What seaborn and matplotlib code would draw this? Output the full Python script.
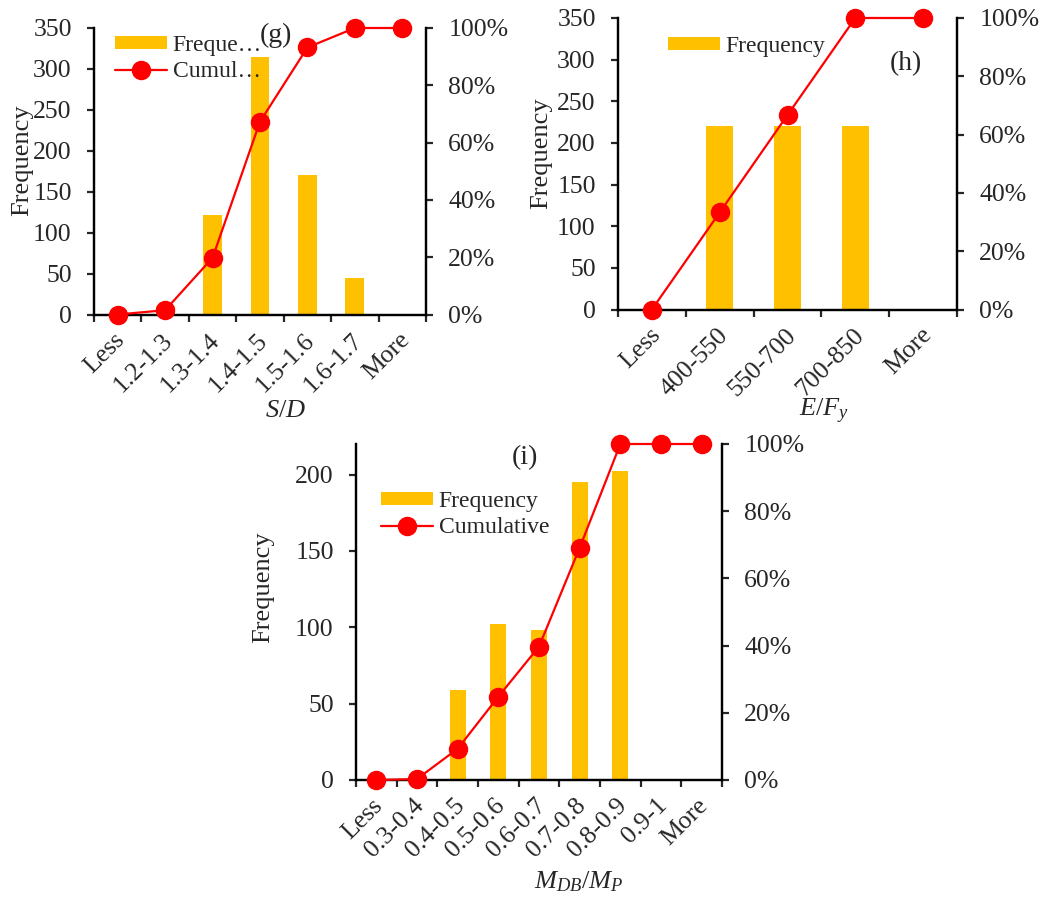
import numpy as np
import pandas as pd
import matplotlib
matplotlib.use("Agg")
import matplotlib.pyplot as plt
from matplotlib.patches import Patch
from matplotlib.lines import Line2D
from matplotlib.ticker import FixedLocator, PercentFormatter
import seaborn as sns

# ---- data -------------------------------------------------------------
g_bins = ["Less", "1.2-1.3", "1.3-1.4", "1.4-1.5", "1.5-1.6", "1.6-1.7", "More"]
g_freq = [0, 10, 121, 314, 171, 45, 0]
g_cum = [0.0, 0.015, 0.198, 0.673, 0.932, 1.0, 1.0]

h_bins = ["Less", "400-550", "550-700", "700-850", "More"]
h_freq = [0, 220, 220, 220, 0]
h_cum = [0.0, 0.333, 0.667, 1.0, 1.0]

i_bins = ["Less", "0.3-0.4", "0.4-0.5", "0.5-0.6", "0.6-0.7",
          "0.7-0.8", "0.8-0.9", "0.9-1", "More"]
i_freq = [0, 2, 59, 102, 98, 195, 202, 0, 0]
i_cum = [0.0, 0.003, 0.093, 0.248, 0.397, 0.691, 1.0, 1.0, 1.0]

# ---- style ------------------------------------------------------------
sns.set_style("white")
plt.rcParams["font.family"] = ["Liberation Serif", "DejaVu Serif"]
plt.rcParams["mathtext.fontset"] = "custom"
plt.rcParams["mathtext.rm"] = "Liberation Serif"
plt.rcParams["mathtext.it"] = "Liberation Serif:italic"
plt.rcParams["mathtext.bf"] = "Liberation Serif:bold"

BAR = "#FFC000"
LINE = "#FF0000"
W, H = 1051, 899
TICK_FS = 18.5
MS = 13

fig = plt.figure(figsize=(W / 100, H / 100), dpi=100)


def fx(x):
    return x / W


def fy(y):
    return 1 - y / H


def panel(box, bins, freq, cum, ymax, yticks, labels, leg_xy, tag, tag_xy,
          xlabel, xlabel_xy, ylabel_xy):
    left, top, right, bottom = box
    ax = fig.add_axes([fx(left), fy(bottom), (right - left) / W, (bottom - top) / H])
    n = len(bins)
    df = pd.DataFrame({"bin": bins, "freq": freq})
    sns.barplot(data=df, x="bin", y="freq", order=bins, color=BAR,
                saturation=1, width=0.4, linewidth=0, ax=ax)
    ax.set_xlim(-0.5, n - 0.5)
    ax.set_ylim(0, ymax)
    ax.set_yticks(yticks)
    ax.set_xlabel("")
    ax.set_ylabel("")

    ax2 = ax.twinx()
    sns.lineplot(x=np.arange(n), y=cum, ax=ax2, color=LINE, linewidth=1.6,
                 marker="o", markeredgecolor=LINE, markerfacecolor=LINE,
                 sort=False, legend=False)
    for ln in ax2.lines:
        ln.set_markersize(MS)
        ln.set_markeredgewidth(1.0)
        ln.set_clip_on(False)
        ln.set_zorder(5)
    ax2.set_ylim(0, 1)
    ax2.set_yticks(np.linspace(0, 1, 6))
    ax2.yaxis.set_major_formatter(PercentFormatter(1.0, decimals=0))
    ax2.set_xlim(-0.5, n - 0.5)

    for a in (ax, ax2):
        for s in a.spines.values():
            s.set_linewidth(1.6)
            s.set_color("black")
        a.spines["top"].set_visible(False)
        a.set_facecolor("none")
        a.grid(False)

    ax.tick_params(axis="y", direction="out", length=5, width=1.6,
                   labelsize=TICK_FS, pad=11, left=True)
    ax2.tick_params(axis="y", direction="out", length=5, width=1.6,
                    labelsize=TICK_FS, pad=11, right=True)
    # category boundaries carry the tick marks, centres carry the labels
    ax.xaxis.set_minor_locator(FixedLocator(np.arange(n + 1) - 0.5))
    ax.tick_params(axis="x", which="minor", direction="out", length=5,
                   width=1.6, bottom=True)
    ax.tick_params(axis="x", which="major", length=0, pad=16,
                   labelsize=TICK_FS)
    ax.set_xticks(np.arange(n) + 0.08)
    ax.set_xticklabels(bins, rotation=45, ha="right", va="center",
                       rotation_mode="anchor")

    handles = [Patch(facecolor=BAR, edgecolor="none"),
               Line2D([], [], color=LINE, linewidth=1.6, marker="o",
                      markersize=MS)]
    ax2.legend(handles[:len(labels)], labels, loc="upper left",
               bbox_to_anchor=(fx(leg_xy[0]), fy(leg_xy[1])),
               bbox_transform=fig.transFigure, frameon=False, fontsize=17,
               borderpad=0, borderaxespad=0, handlelength=2.2,
               handleheight=0.5, handletextpad=0.25, labelspacing=0.22,
               numpoints=1)

    fig.text(fx(tag_xy[0]), fy(tag_xy[1]), tag, fontsize=20,
             ha="center", va="center")
    fig.text(fx(xlabel_xy[0]), fy(xlabel_xy[1]), xlabel, fontsize=19,
             ha="center", va="center")
    fig.text(fx(ylabel_xy[0]), fy(ylabel_xy[1]), "Frequency", fontsize=19,
             ha="center", va="center", rotation=90)
    return ax, ax2


panel((94, 28, 426, 314.5), g_bins, g_freq, g_cum, 350, range(0, 351, 50),
      ["Freque\u2026", "Cumul\u2026"], (115, 35), "(g)", (276, 35),
      r"$S/D$", (286, 411), (22, 160))

panel((618, 18, 957, 309.5), h_bins, h_freq, h_cum, 350, range(0, 351, 50),
      ["Frequency"], (668, 36), "(h)", (906, 64),
      r"$E/F_y$", (824, 411), (541, 153))

panel((356, 444, 722, 780), i_bins, i_freq, i_cum, 220, range(0, 201, 50),
      ["Frequency", "Cumulative"], (381, 491), "(i)", (525, 458),
      r"$M_{DB}/M_P$", (579, 882), (263, 587))

fig.savefig("out.png", dpi=100)
